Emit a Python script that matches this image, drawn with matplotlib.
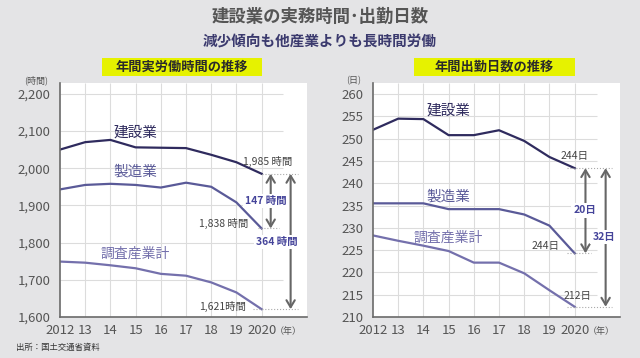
import matplotlib.pyplot as plt
from matplotlib.patches import Rectangle

plt.rcParams['font.family'] = ['Noto Sans CJK JP', 'DejaVu Sans']

years = [2012, 2013, 2014, 2015, 2016, 2017, 2018, 2019, 2020]
year_labels = ['2012', '13', '14', '15', '16', '17', '18', '19', '2020']

# 年間実労働時間
hours_construction = [2050, 2070, 2076, 2056, 2055, 2054, 2036, 2016, 1985]
hours_manufacturing = [1943, 1955, 1958, 1955, 1948, 1961, 1950, 1908, 1838]
hours_all = [1749, 1746, 1739, 1731, 1716, 1711, 1693, 1666, 1621]
hours_ticks = [1600, 1700, 1800, 1900, 2000, 2100, 2200]

# 年間出勤日数
days_construction = [252.0, 254.5, 254.4, 250.8, 250.8, 251.9, 249.5, 245.9, 243.4]
days_manufacturing = [235.5, 235.5, 235.5, 234.2, 234.2, 234.2, 233.0, 230.5, 224.3]
days_all = [228.3, 227.1, 226.0, 224.8, 222.2, 222.2, 219.8, 216.0, 212.3]
days_ticks = [210, 215, 220, 225, 230, 235, 240, 245, 250, 255, 260]

c_con = '#2f2b5e'
c_man = '#5a5a98'
c_all = '#7470ac'
c_note = '#45449a'
c_arrow = '#666666'
bg = '#e4e4e6'

fig = plt.figure(figsize=(6.4, 3.58), dpi=100, facecolor=bg)
W, H = 640, 358


def px_axes(x0, y0, x1, y1):
    return fig.add_axes([x0 / W, 1 - y1 / H, (x1 - x0) / W, (y1 - y0) / H])


def setup(ax, ylim, ticks, labels, grid_right, unit, unit_x):
    ax.set_facecolor('white')
    ax.set_xlim(2012, 2021.8)
    ax.set_ylim(*ylim)
    for s in ['top', 'right']:
        ax.spines[s].set_visible(False)
    for s in ['left', 'bottom']:
        ax.spines[s].set_color('#6a6a6a')
        ax.spines[s].set_linewidth(1.2)
    ax.set_xticks(years, year_labels)
    ax.set_yticks(ticks, labels)
    ax.tick_params(length=0, labelsize=9.5, colors='#555555')
    ax.tick_params(axis='x', pad=5)
    ax.tick_params(axis='y', pad=7)
    ax.hlines(ticks[1:], 2012, grid_right, color='#dcdcdc', lw=0.8, zorder=0)
    ax.vlines(years[1:], ylim[0], ylim[1], color='#dcdcdc', lw=0.8, zorder=0)
    ax.text(unit_x, 1.01, unit, transform=ax.transAxes, ha='center', va='center',
            fontsize=6.5, color='#555555')
    ax.text(2021.05, -0.063, '（年）', transform=ax.get_xaxis_transform(),
            ha='center', va='center', fontsize=6.5, color='#555555')


def span_arrow(ax, x, top, bottom, tx, ty, label):
    ax.annotate('', xy=(x, top), xytext=(x, bottom),
                arrowprops=dict(arrowstyle='<->,head_length=0.5,head_width=0.3',
                                color=c_arrow, lw=1.5, shrinkA=0, shrinkB=0),
                zorder=4)
    ax.text(tx, ty, label, ha='center', va='center', fontsize=7.5,
            fontweight='bold', color=c_note, zorder=5,
            bbox=dict(facecolor='white', edgecolor='none', pad=1.5))


# left panel
ax1 = px_axes(60, 83, 307, 317)
setup(ax1, (1600, 2229), hours_ticks, ['{:,}'.format(v) for v in hours_ticks],
      2020.85, '(時間)', -0.095)
ax1.plot(years, hours_construction, color=c_con, lw=1.6)
ax1.plot(years, hours_manufacturing, color=c_man, lw=1.6)
ax1.plot(years, hours_all, color=c_all, lw=1.6)
ax1.text(2015.0, 2095, '建設業', color=c_con, fontsize=10.5, ha='center', va='center')
ax1.text(2015.0, 1990, '製造業', color=c_man, fontsize=10.5, ha='center', va='center')
ax1.text(2015.0, 1771, '調査産業計', color=c_all, fontsize=10, ha='center', va='center')
for y, a, b in [(1985, 2020, 2021.45), (1838, 2019.85, 2020.7), (1621, 2019.65, 2021.45)]:
    ax1.hlines(y, a, b, color='#aaaaaa', lw=0.8, linestyles=':')
ax1.text(2020.25, 2019, '1,985 時間', fontsize=7.5, color='#444444', ha='center', va='center')
ax1.text(2019.46, 1851, '1,838 時間', fontsize=7.5, color='#444444', ha='right', va='center')
ax1.text(2019.37, 1627, '1,621時間', fontsize=7.5, color='#444444', ha='right', va='center')
span_arrow(ax1, 2020.36, 1985, 1838, 2020.15, 1911, '147 時間')
span_arrow(ax1, 2021.15, 1985, 1621, 2020.6, 1801, '364 時間')

# right panel
ax2 = px_axes(373, 83, 620, 317)
setup(ax2, (210, 262.5), days_ticks, [str(v) for v in days_ticks],
      2020.87, '(日)', -0.077)
ax2.plot(years, days_construction, color=c_con, lw=1.6)
ax2.plot(years, days_manufacturing, color=c_man, lw=1.6)
ax2.plot(years, days_all, color=c_all, lw=1.6)
ax2.text(2015.0, 256.3, '建設業', color=c_con, fontsize=10.5, ha='center', va='center')
ax2.text(2015.0, 237.0, '製造業', color=c_man, fontsize=10.5, ha='center', va='center')
ax2.text(2015.0, 227.7, '調査産業計', color=c_all, fontsize=10, ha='center', va='center')
for y, a, b in [(243.4, 2019.7, 2021.5), (224.3, 2019.7, 2020.63), (212.3, 2019.7, 2021.5)]:
    ax2.hlines(y, a, b, color='#aaaaaa', lw=0.8, linestyles=':')
ax2.text(2019.98, 246.2, '244日', fontsize=7.5, color='#444444', ha='center', va='center')
ax2.text(2019.41, 226.0, '244日', fontsize=7.5, color='#444444', ha='right', va='center')
ax2.text(2020.1, 214.8, '212日', fontsize=7.5, color='#444444', ha='center', va='center')
span_arrow(ax2, 2020.43, 243.4, 224.3, 2020.39, 233.9, '20日')
span_arrow(ax2, 2021.23, 243.4, 212.3, 2021.15, 227.9, '32日')

# panel headers
for x0, x1, label in [(101.7, 261.7, '年間実労働時間の推移'), (414.3, 575, '年間出勤日数の推移')]:
    fig.patches.append(Rectangle((x0 / W, 1 - 75.7 / H), (x1 - x0) / W, 17.4 / H,
                                 transform=fig.transFigure, facecolor='#e6f200',
                                 edgecolor='none'))
    fig.text((x0 + x1) / 2 / W, 1 - 67 / H, label, ha='center', va='center',
             fontsize=9.5, fontweight='bold', color='#2a2a2a')

fig.text(0.5, 1 - 17 / H, '建設業の実務時間･出勤日数', ha='center', va='center',
         fontsize=12.5, fontweight='bold', color='#555555')
fig.text(0.5, 1 - 42 / H, '減少傾向も他産業よりも長時間労働', ha='center', va='center',
         fontsize=10.5, fontweight='bold', color='#3b3a6e')
fig.text(16 / W, 1 - 347 / H, '出所：国土交通省資料', ha='left', va='center',
         fontsize=6, color='#333333')

fig.savefig('out.png', dpi=100, facecolor=bg)
